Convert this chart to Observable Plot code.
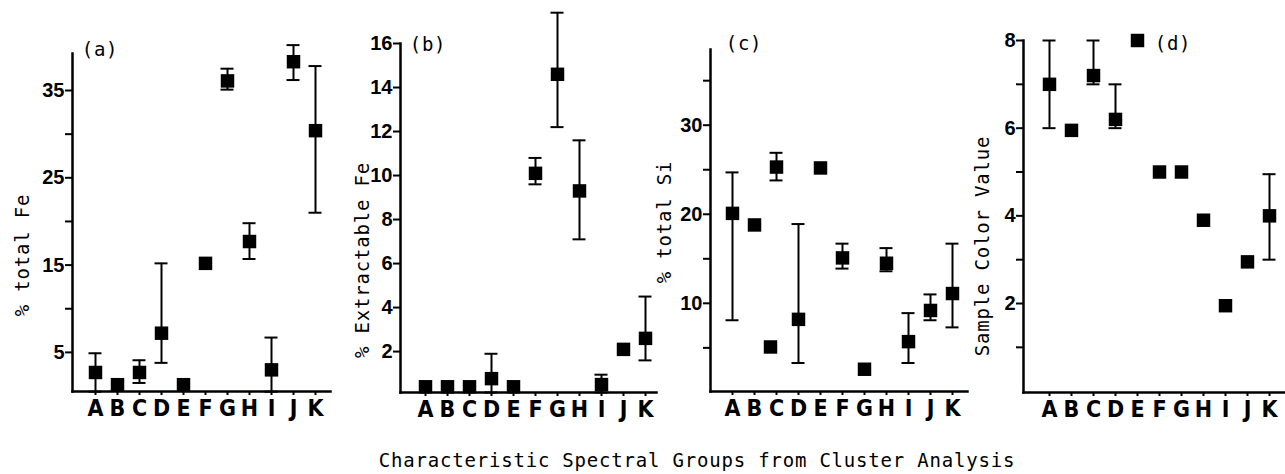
<!DOCTYPE html>
<html><head><meta charset="utf-8">
<script src="https://cdn.jsdelivr.net/npm/d3@7"></script>
<script src="https://cdn.jsdelivr.net/npm/@observablehq/plot@0.6"></script>
<style>
html,body{margin:0;padding:0;background:#fff;}
#fig{position:relative;width:1285px;height:474px;overflow:hidden;background:#fff;}
#fig svg{position:absolute;left:0;top:0;pointer-events:none;}
.lbl{position:absolute;font-family:"DejaVu Sans Mono","Liberation Mono",monospace;font-size:19px;letter-spacing:0.8px;color:#000;white-space:nowrap;line-height:1;}
.ytitle{transform:translate(-50%,-50%) rotate(-90deg);}
.ctr{transform:translate(-50%,-50%);}
</style></head><body><div id="fig"></div><script>
// ---- data ----
const groups = ["A","B","C","D","E","F","G","H","I","J","K"];

// (a) % total Fe
const feTotal   = [2.7, 1.3, 2.7, 7.2, 1.3, 15.2, 36.1, 17.7, 3.0, 38.3, 30.4];
const feTotalHi = [4.9, null, 4.1, 15.2, null, null, 37.5, 19.8, 6.7, 40.2, 37.8];
const feTotalLo = [0.5, null, 1.5, 3.8, null, null, 35.1, 15.7, 0.5, 36.2, 21.0];
const feTotalTicks = [5, 15, 25, 35];
const feTotalMinor = [10, 20, 30];

// (b) % Extractable Fe
const feExtr   = [0.4, 0.4, 0.4, 0.77, 0.4, 10.1, 14.6, 9.3, 0.5, 2.1, 2.6];
const feExtrHi = [null, null, null, 1.9, null, 10.8, 17.4, 11.6, 0.95, null, 4.5];
const feExtrLo = [null, null, null, 0.14, null, 9.6, 12.2, 7.1, 0.14, null, 1.6];
const feExtrTicks = [2, 4, 6, 8, 10, 12, 14, 16];
const feExtrMinor = [];

// (c) % total Si
const siTotal   = [20.1, 18.8, 25.3, 8.2, 25.2, 15.1, 2.6, 14.5, 5.7, 9.2, 11.1];
const siTotalHi = [24.7, null, 26.9, 18.9, null, 16.7, null, 16.2, 8.9, 11.0, 16.7];
const siTotalLo = [8.1, null, 23.8, 3.3, null, 13.9, null, 13.6, 3.3, 8.1, 7.3];
const siExtraGroups = ["C"];
const siExtraValues = [5.1];
const siTicks = [10, 20, 30];
const siMinor = [5, 15, 25, 35];

// (d) Sample Color Value
const colorVal   = [7.0, 5.95, 7.2, 6.2, 8.0, 5.0, 5.0, 3.9, 1.95, 2.95, 4.0];
const colorValHi = [8, null, 8, 7, null, null, null, null, null, null, 4.95];
const colorValLo = [6, null, 7.0, 6.0, null, null, null, null, null, null, 3.0];
const colorTicks = [2, 4, 6, 8];
const colorMinor = [1, 3, 5, 7];

const titles = ["% total Fe", "% Extractable Fe", "% total Si", "Sample Color Value"];
const panelTags = ["(a)", "(b)", "(c)", "(d)"];
const caption = "Characteristic Spectral Groups from Cluster Analysis";

// ---- drawing ----
const W = 1285, H = 474;
const fig = document.getElementById("fig");

function panel(cfg) {
  const rows = groups.map((g, i) => ({g, v: cfg.values[i], hi: cfg.hi[i], lo: cfg.lo[i]}));
  const bars = rows.filter(d => d.hi != null);
  const extra = (cfg.extraGroups || []).map((g, i) => ({g, v: cfg.extraValues[i]}));
  const tickFont = {fontSize: 20, fontWeight: "bold", fontFamily: "Liberation Sans, Arial, sans-serif"};
  return Plot.plot({
    width: W, height: H,
    marginLeft: cfg.left, marginRight: W - cfg.right,
    marginTop: cfg.top, marginBottom: H - cfg.bottom,
    style: {background: "transparent", overflow: "visible", color: "black"},
    x: {type: "band", domain: groups, range: cfg.xRange, padding: 0, label: null},
    y: {domain: cfg.yDomain, label: null},
    marks: [
      Plot.frame({anchor: "left", strokeWidth: 2.5, stroke: "black"}),
      Plot.frame({anchor: "bottom", strokeWidth: 2.5, stroke: "black"}),
      Plot.axisY(cfg.minor, {tickSize: 7, tickFormat: () => "", strokeWidth: 2}),
      Plot.axisY(cfg.ticks, {tickSize: 7, tickPadding: 1, strokeWidth: 2, ...tickFont}),
      Plot.axisX({tickSize: 4, tickPadding: 4, strokeWidth: 2, fontSize: 23, fontWeight: "bold",
                  fontFamily: "DejaVu Sans Condensed, Liberation Sans Narrow, Liberation Sans, sans-serif",
                  fontStretch: "condensed"}),
      Plot.ruleX(bars, {x: "g", y1: "lo", y2: "hi", strokeWidth: 2, stroke: "black"}),
      Plot.tickY(bars, {x: "g", y: "hi", insetLeft: 4.5, insetRight: 4.5, strokeWidth: 2, stroke: "black"}),
      Plot.tickY(bars, {x: "g", y: "lo", insetLeft: 4.5, insetRight: 4.5, strokeWidth: 2, stroke: "black"}),
      Plot.dot(rows, {x: "g", y: "v", symbol: "square", r: 7.6, fill: "black", stroke: null}),
      Plot.dot(extra, {x: "g", y: "v", symbol: "square", r: 7.6, fill: "black", stroke: null, dx: -6})
    ]
  });
}

const panels = [
  {values: feTotal, hi: feTotalHi, lo: feTotalLo, ticks: feTotalTicks, minor: feTotalMinor,
   left: 72, right: 330, top: 53, bottom: 391, yDomain: [0.52, 39.24], xRange: [82.9, 327.1]},
  {values: feExtr, hi: feExtrHi, lo: feExtrLo, ticks: feExtrTicks, minor: feExtrMinor,
   left: 400, right: 656, top: 43, bottom: 392, yDomain: [0.14, 16], xRange: [414, 656]},
  {values: siTotal, hi: siTotalHi, lo: siTotalLo, ticks: siTicks, minor: siMinor,
   extraGroups: siExtraGroups, extraValues: siExtraValues,
   left: 710, right: 967, top: 49, bottom: 391, yDomain: [0.1, 38.5], xRange: [720, 963.1]},
  {values: colorVal, hi: colorValHi, lo: colorValLo, ticks: colorTicks, minor: colorMinor,
   left: 1023, right: 1285, top: 40, bottom: 392, yDomain: [-0.03, 8], xRange: [1035.8, 1282.2]}
];
panels.forEach(p => fig.appendChild(panel(p)));

function addLabel(text, x, y, cls) {
  const d = document.createElement("div");
  d.className = "lbl " + cls;
  d.style.left = x + "px";
  d.style.top = y + "px";
  d.textContent = text;
  fig.appendChild(d);
}
const titlePos = [[22, 255], [362, 260], [664, 222], [982, 246]];
titles.forEach((t, i) => addLabel(t, titlePos[i][0], titlePos[i][1], "ytitle"));
const tagPos = [[100, 49], [428, 44], [744, 43], [1173, 43]];
panelTags.forEach((t, i) => addLabel(t, tagPos[i][0], tagPos[i][1], "ctr"));
addLabel(caption, 697, 460, "ctr");
</script></body></html>
